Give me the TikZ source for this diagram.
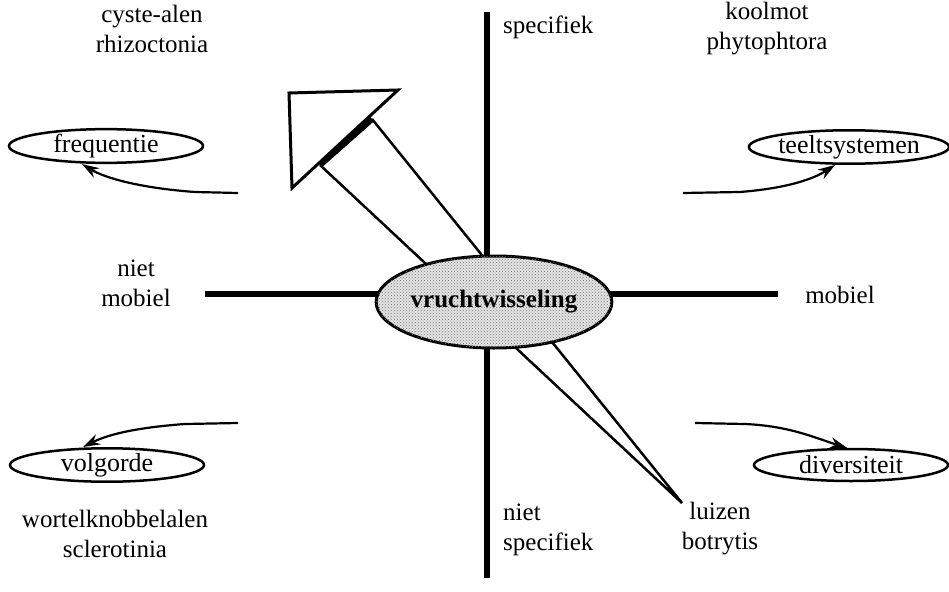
\documentclass[tikz,border=0pt]{standalone}
\usepackage{fontspec}
\setmainfont{Liberation Serif}
\usetikzlibrary{arrows.meta,shapes.geometric,patterns}

\begin{document}
\begin{tikzpicture}[x=1pt,y=-1pt,
  lbl/.style={font=\fontsize{25}{30}\selectfont, align=center, inner sep=0pt},
  axisline/.style={line width=6pt},
  oval/.style={draw, ellipse, line width=2.5pt, inner sep=0pt,
    minimum width=194pt, minimum height=32pt, font=\fontsize{26}{30}\selectfont},
  curvearrow/.style={line width=2.2pt, -{Stealth[length=17pt,width=11pt]}},
  bigarrow/.style={line width=2.5pt, line join=miter}
]
\useasboundingbox (0,0) rectangle (949,591);

% axes
\coordinate (top) at (487,12);
\coordinate (bottom) at (487,578);
\coordinate (left) at (205,294);
\coordinate (right) at (778,294);
\coordinate (centre) at (487,294);
\draw[axisline] (top) -- (centre) -- (bottom);
\draw[axisline] (left) -- (right);

% large arrow pointing up-left
\coordinate (tip) at (682,503);
\coordinate (baseL) at (320,165);
\coordinate (baseR) at (372,119);
\coordinate (headA) at (289,93);
\coordinate (headB) at (398,90);
\coordinate (headC) at (292,188);
\draw[bigarrow] (baseL) -- (tip) -- (baseR);
\draw[bigarrow, fill=white, line width=3pt] (headA) -- (headB) -- (headC) -- cycle;
\draw[line width=6pt] (baseL) -- (baseR);

% central node
\node[draw, ellipse, line width=3pt, fill=black!10,
      postaction={pattern=crosshatch dots, pattern color=black!55},
      inner sep=0pt, minimum width=198pt, minimum height=92pt,
      font=\fontsize{25}{28}\selectfont\bfseries] (vr) at (494,302) {vruchtwisseling};

% corner ovals
\node[oval] (freq) at (106,146) {frequentie};
\node[oval] (teelt) at (849,147) {teeltsystemen};
\node[oval] (volg) at (107,465) {volgorde};
\node[oval] (div) at (851,465) {diversiteit};

% curved arrows towards the ovals
\coordinate (fs) at (238,193);
\coordinate (ts) at (683,193);
\coordinate (vs) at (238,423);
\coordinate (ds) at (695,423);
\draw[curvearrow] (fs) -- (195,192) .. controls (140,188) and (105,178) .. ([xshift=-24pt]freq.south);
\draw[curvearrow] (ts) -- (740,192) .. controls (790,188) and (815,178) .. ([xshift=-14pt]teelt.south);
\draw[curvearrow] (vs) -- (185,424) .. controls (130,428) and (105,436) .. ([xshift=-24pt]volg.north);
\draw[curvearrow] (ds) -- (745,424) .. controls (790,426) and (815,438) .. ([xshift=-4pt]div.north);

% labels
\node[lbl] (l1) at (152,29) {cyste-alen\\rhizoctonia};
\node[lbl, anchor=west] (l2) at (503,27) {specifiek};
\node[lbl] (l3) at (767,29) {koolmot\\phytophtora};
\node[lbl] (l4) at (136,283) {niet\\mobiel};
\node[lbl] (l5) at (840,295) {mobiel};
\node[lbl, align=left, anchor=west] (l6) at (503,530) {niet\\specifiek};
\node[lbl] (l7) at (720,529) {luizen\\botrytis};
\node[lbl] (l8) at (115,534) {wortelknobbelalen\\sclerotinia};
\end{tikzpicture}
\end{document}
